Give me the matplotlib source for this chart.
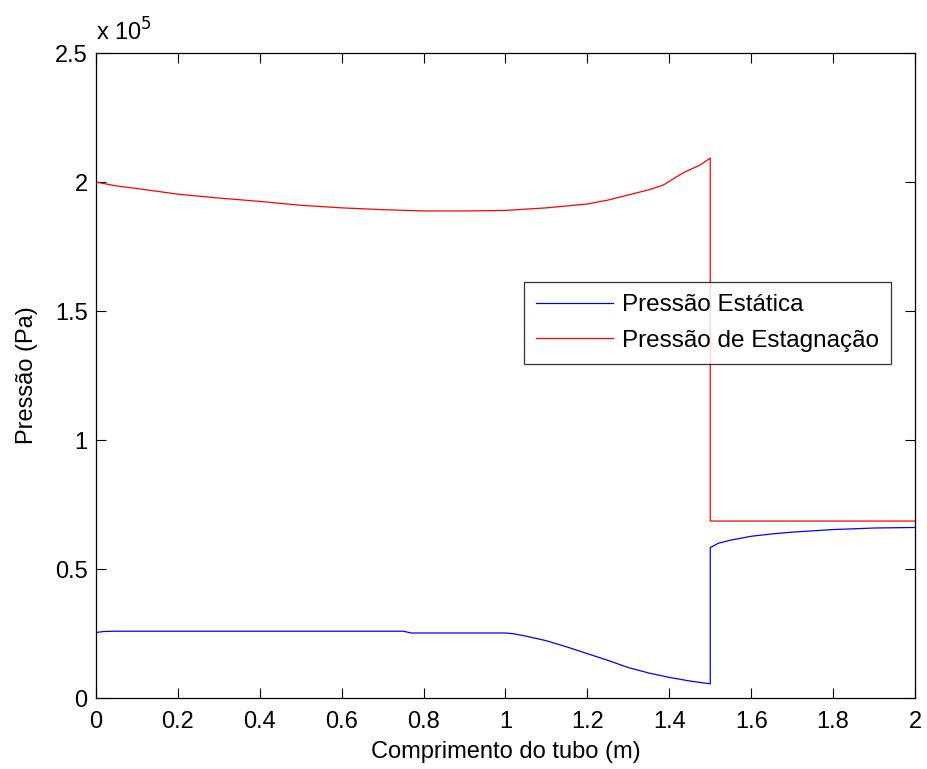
import matplotlib
matplotlib.use("Agg")
import matplotlib.pyplot as plt
from matplotlib.ticker import FuncFormatter

plt.rcParams['font.family'] = ['Liberation Sans', 'DejaVu Sans']

# Static pressure (Pa)
x_static = [0.0, 0.02, 0.05, 0.3, 0.6, 0.75, 0.77, 1.0, 1.02, 1.05, 1.1, 1.15, 1.2, 1.25, 1.3, 1.35, 1.4, 1.45, 1.5,
            1.5, 1.52, 1.55, 1.6, 1.65, 1.7, 1.8, 1.9, 2.0]
p_static = [0.254e5, 0.258e5, 0.259e5, 0.259e5, 0.259e5, 0.259e5, 0.252e5, 0.252e5, 0.249e5, 0.240e5, 0.222e5,
            0.198e5, 0.172e5, 0.146e5, 0.118e5, 0.097e5, 0.080e5, 0.066e5, 0.055e5,
            0.583e5, 0.600e5, 0.612e5, 0.627e5, 0.636e5, 0.643e5, 0.653e5, 0.659e5, 0.661e5]

# Stagnation pressure (Pa)
x_stag = [0.0, 0.05, 0.1, 0.2, 0.3, 0.4, 0.5, 0.6, 0.7, 0.8, 0.9, 1.0, 1.1, 1.2, 1.25, 1.3, 1.35, 1.385, 1.434,
          1.475, 1.5, 1.5, 2.0]
p_stag = [2.0e5, 1.985e5, 1.975e5, 1.953e5, 1.938e5, 1.925e5, 1.91e5, 1.9e5, 1.893e5, 1.888e5, 1.888e5, 1.89e5,
          1.9e5, 1.915e5, 1.93e5, 1.95e5, 1.97e5, 1.988e5, 2.036e5, 2.066e5, 2.093e5, 0.686e5, 0.686e5]

x_ticks = [0, 0.2, 0.4, 0.6, 0.8, 1.0, 1.2, 1.4, 1.6, 1.8, 2.0]
y_ticks = [0, 0.5e5, 1.0e5, 1.5e5, 2.0e5, 2.5e5]

fig = plt.figure(figsize=(9.28, 7.69), dpi=100)
ax = fig.add_axes([0.1034, 0.0923, 0.8826, 0.8387])

ax.plot(x_static, p_static, color='#0000ff', lw=0.9, label='Pressão Estática')
ax.plot(x_stag, p_stag, color='#ff0000', lw=0.9, label='Pressão de Estagnação')

ax.set_xlim(0, 2)
ax.set_ylim(0, 2.5e5)
ax.set_xticks(x_ticks)
ax.set_yticks(y_ticks)

ax.xaxis.set_major_formatter(FuncFormatter(lambda v, p: '%g' % v))
ax.yaxis.set_major_formatter(FuncFormatter(lambda v, p: '%g' % (v / 1e5)))

ax.tick_params(direction='in', length=7, width=0.8, top=True, right=True, labelsize=17)
ax.tick_params(axis='x', pad=9)
ax.tick_params(axis='y', pad=6)
for s in ax.spines.values():
    s.set_linewidth(0.9)

ax.set_xlabel('Comprimento do tubo (m)', fontsize=17, labelpad=6)
ax.set_ylabel('Pressão (Pa)', fontsize=17, labelpad=12)

ax.text(0.0, 1.012, r'x 10$^{5}$', transform=ax.transAxes, fontsize=17, ha='left', va='bottom')

leg = ax.legend(loc='upper left', bbox_to_anchor=(0.5226, 0.645), borderaxespad=0, fontsize=17.5,
                frameon=True, fancybox=False, edgecolor='black', handlelength=3.15, handletextpad=0.37,
                borderpad=0.5, labelspacing=0.55)
leg.get_frame().set_linewidth(0.9)

fig.savefig('out.png', dpi=100)
